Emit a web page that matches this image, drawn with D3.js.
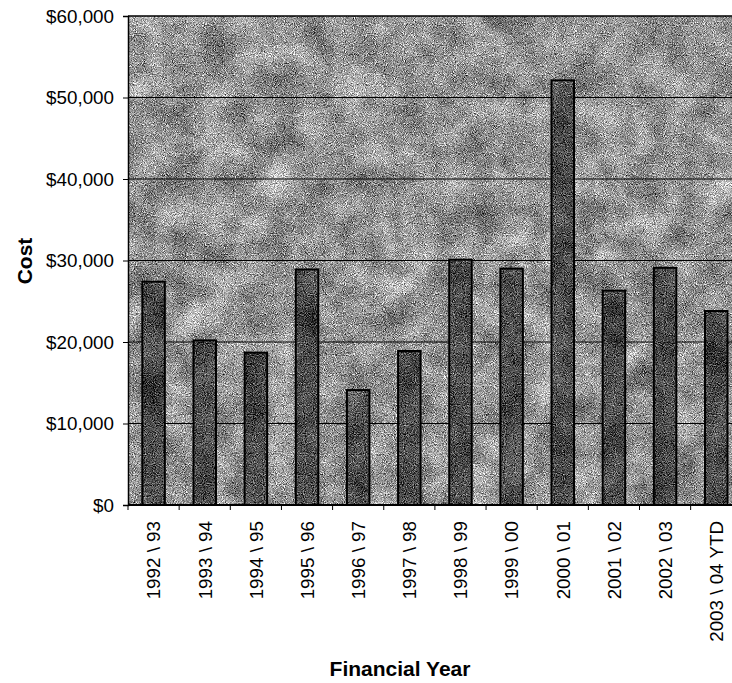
<!DOCTYPE html>
<html>
<head>
<meta charset="utf-8">
<script src="https://cdn.jsdelivr.net/npm/d3@7"></script>
<style>
  html, body { margin: 0; padding: 0; background: #ffffff; }
  svg { display: block; overflow: hidden; }
  text { font-family: "Liberation Sans", Arial, Helvetica, sans-serif; fill: #000; }
</style>
</head>
<body>
<svg id="chart" width="732" height="683"></svg>
<script>
// Annual cost by financial year
const categories = [
  "1992 \\ 93", "1993 \\ 94", "1994 \\ 95", "1995 \\ 96", "1996 \\ 97", "1997 \\ 98",
  "1998 \\ 99", "1999 \\ 00", "2000 \\ 01", "2001 \\ 02", "2002 \\ 03", "2003 \\ 04 YTD"
];
const costs = [27400, 20200, 18700, 28900, 14100, 18900, 30100, 29000, 52100, 26300, 29100, 23800];
const yTicks = [0, 10000, 20000, 30000, 40000, 50000, 60000];
const xTitle = "Financial Year";
const yTitle = "Cost";

const svg = d3.select("#chart");
const plot = { left: 128, top: 16, right: 741.8, bottom: 505 };

// Grainy textures for the plot background and the bars:
// fine salt-and-pepper noise over a gentle, slowly varying shade
const defs = svg.append("defs");
const toGrey = "0.33 0.33 0.34 0 0  0.33 0.33 0.34 0 0  0.33 0.33 0.34 0 0  0 0 0 0 1";
function grainFilter(id, mean, lowAmp, highAmp, seed) {
  const f = defs.append("filter").attr("id", id)
    .attr("x", 0).attr("y", 0).attr("width", 1).attr("height", 1)
    .attr("color-interpolation-filters", "sRGB");
  f.append("feTurbulence").attr("type", "fractalNoise").attr("baseFrequency", 0.03)
    .attr("numOctaves", 3).attr("seed", seed).attr("result", "lowRaw");
  f.append("feColorMatrix").attr("in", "lowRaw").attr("type", "matrix")
    .attr("values", toGrey).attr("result", "low");
  f.append("feTurbulence").attr("type", "fractalNoise").attr("baseFrequency", 1.1)
    .attr("numOctaves", 1).attr("seed", seed + 5).attr("result", "highRaw");
  f.append("feColorMatrix").attr("in", "highRaw").attr("type", "matrix")
    .attr("values", toGrey).attr("result", "high");
  f.append("feComposite").attr("in", "low").attr("in2", "high").attr("operator", "arithmetic")
    .attr("k1", 0).attr("k2", lowAmp).attr("k3", highAmp)
    .attr("k4", mean - 0.5 * (lowAmp + highAmp)).attr("result", "mix");
  f.append("feColorMatrix").attr("in", "mix").attr("type", "matrix")
    .attr("values", "1 0 0 0 0  1 0 0 0 0  1 0 0 0 0  0 0 0 0 1");
}
grainFilter("bgGrain", 0.58, 0.9, 2.6, 11);
grainFilter("barGrain", 0.30, 0.6, 2.2, 23);

const x = d3.scaleBand()
  .domain(categories)
  .range([plot.left, plot.right])
  .paddingInner(0.56)
  .paddingOuter(0.28);

const y = d3.scaleLinear()
  .domain([0, 60000])
  .range([plot.bottom, plot.top]);

// Plot background
svg.append("rect")
  .attr("x", plot.left).attr("y", plot.top)
  .attr("width", plot.right - plot.left).attr("height", plot.bottom - plot.top)
  .attr("fill", "#8f8f8f")
  .attr("filter", "url(#bgGrain)");

// Horizontal gridlines
svg.append("g").selectAll("line")
  .data(yTicks.filter(d => d > 0))
  .join("line")
  .attr("x1", plot.left).attr("x2", plot.right)
  .attr("y1", d => y(d)).attr("y2", d => y(d))
  .attr("stroke", "#000").attr("stroke-width", d => d === 60000 ? 1.5 : 1);

// Bars
svg.append("g").selectAll("rect")
  .data(costs)
  .join("rect")
  .attr("x", (d, i) => x(categories[i]))
  .attr("y", d => y(d))
  .attr("width", x.bandwidth())
  .attr("height", d => plot.bottom - y(d))
  .attr("fill", "#4a4a4a")
  .attr("filter", "url(#barGrain)");
svg.append("g").selectAll("rect")
  .data(costs)
  .join("rect")
  .attr("x", (d, i) => x(categories[i]))
  .attr("y", d => y(d))
  .attr("width", x.bandwidth())
  .attr("height", d => plot.bottom - y(d))
  .attr("fill", "none")
  .attr("stroke", "#000")
  .attr("stroke-width", 2);

// Y axis
const yAxis = svg.append("g")
  .attr("transform", `translate(${plot.left},0)`)
  .call(d3.axisLeft(y).tickValues(yTicks).tickFormat(d3.format("$,")).tickSize(5).tickPadding(9));
yAxis.select(".domain").attr("stroke", "#000").attr("stroke-width", 1.5);
yAxis.selectAll(".tick line").attr("stroke", "#000");
yAxis.selectAll(".tick text")
  .attr("font-size", "18.8px")
  .attr("font-family", "'Liberation Sans', Arial, sans-serif");

// X axis: labels at band centres, ticks at band boundaries
const xAxis = svg.append("g")
  .attr("transform", `translate(0,${plot.bottom})`)
  .call(d3.axisBottom(x).tickSize(0).tickPadding(0));
xAxis.select(".domain").remove();
xAxis.selectAll(".tick text")
  .attr("font-size", "18.8px")
  .attr("font-family", "'Liberation Sans', Arial, sans-serif")
  .attr("text-anchor", "end")
  .attr("transform", "translate(0,16) rotate(-90)")
  .attr("x", 0).attr("y", 0).attr("dy", "0.36em");

const step = x.step();
const boundaries = d3.range(categories.length + 1).map(i => plot.left + i * step);
svg.append("g").selectAll("line")
  .data(boundaries)
  .join("line")
  .attr("x1", d => d).attr("x2", d => d)
  .attr("y1", plot.bottom).attr("y2", plot.bottom + 5)
  .attr("stroke", "#000");
svg.append("line")
  .attr("x1", plot.left).attr("x2", plot.right)
  .attr("y1", plot.bottom).attr("y2", plot.bottom)
  .attr("stroke", "#000").attr("stroke-width", 2);

// Axis titles
svg.append("text")
  .attr("x", 400).attr("y", 676)
  .attr("text-anchor", "middle")
  .attr("font-size", "21px").attr("font-weight", "bold")
  .text(xTitle);
svg.append("text")
  .attr("transform", "translate(32,261) rotate(-90)")
  .attr("text-anchor", "middle")
  .attr("font-size", "21px").attr("font-weight", "bold")
  .text(yTitle);
</script>
</body>
</html>
